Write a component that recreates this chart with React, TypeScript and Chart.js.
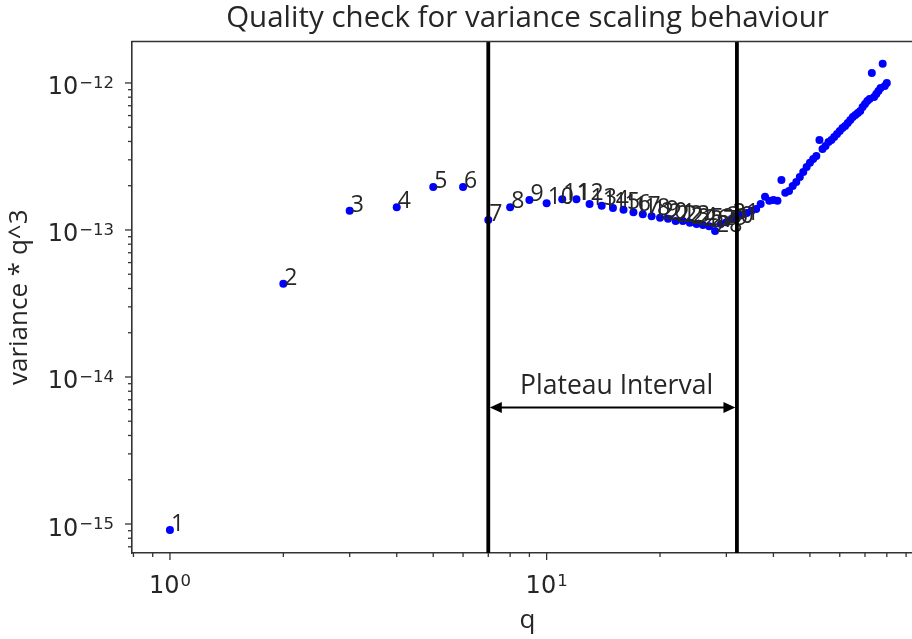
import React, { useEffect, useRef } from 'react';
import { Chart, registerables } from 'chart.js';

Chart.register(...registerables);

// ---- data ----
const qValues: number[] = [
  1, 2, 3, 4, 5, 6, 7, 8, 9, 10,
  11, 12, 13, 14, 15, 16, 17, 18, 19, 20,
  21, 22, 23, 24, 25, 26, 27, 28, 29, 30,
  31, 32, 33, 34, 35, 36, 37, 38, 39, 40,
  41, 42, 43, 44, 45, 46, 47, 48, 49, 50,
  51, 52, 53, 54, 55, 56, 57, 58, 59, 60,
  61, 62, 63, 64, 65, 66, 67, 68, 69, 70,
  71, 72, 73, 74, 75, 76, 77, 78, 79, 80,
];

const varianceQ3: number[] = [
  9.1e-16, 4.3e-14, 1.35e-13, 1.43e-13, 1.96e-13, 1.96e-13, 1.17e-13, 1.43e-13, 1.60e-13, 1.52e-13,
  1.62e-13, 1.62e-13, 1.50e-13, 1.46e-13, 1.41e-13, 1.37e-13, 1.32e-13, 1.28e-13, 1.24e-13, 1.21e-13,
  1.19e-13, 1.15e-13, 1.15e-13, 1.12e-13, 1.10e-13, 1.08e-13, 1.06e-13, 9.85e-14, 1.10e-13, 1.13e-13,
  1.19e-13, 1.23e-13, 1.27e-13, 1.305e-13, 1.35e-13, 1.39e-13, 1.50e-13, 1.68e-13, 1.58e-13, 1.60e-13,
  1.58e-13, 2.19e-13, 1.79e-13, 1.84e-13, 1.99e-13, 2.12e-13, 2.29e-13, 2.48e-13, 2.68e-13, 2.86e-13,
  3.04e-13, 3.19e-13, 4.10e-13, 3.56e-13, 3.73e-13, 3.97e-13, 4.10e-13, 4.29e-13, 4.50e-13, 4.72e-13,
  4.94e-13, 5.10e-13, 5.35e-13, 5.60e-13, 5.87e-13, 6.06e-13, 6.25e-13, 6.45e-13, 6.87e-13, 7.20e-13,
  7.54e-13, 7.79e-13, 1.17e-12, 8.03e-13, 8.42e-13, 8.82e-13, 9.25e-13, 1.35e-12, 9.54e-13, 1.00e-12,
];

const plateauBounds: number[] = [7, 32];
const labeledCount = 31;
const xRange: number[] = [0.793, 99.8];
const yRange: number[] = [6.35e-16, 1.914e-12];

const titleText = 'Quality check for variance scaling behaviour';
const xTitle = 'q';
const yTitle = 'variance * q^3';
const plateauText = 'Plateau Interval';

// ---- helpers ----
function powerOf(value: number): number | null {
  const lg = Math.log10(value);
  const e = Math.round(lg);
  return Math.abs(lg - e) > 1e-6 ? null : e;
}

function buildLogTicks(min: number, max: number) {
  const ticks: { value: number; major: boolean }[] = [];
  const e0 = Math.floor(Math.log10(min));
  const e1 = Math.ceil(Math.log10(max));
  for (let e = e0; e <= e1; e++) {
    for (let m = 1; m <= 9; m++) {
      const v = m * Math.pow(10, e);
      if (v >= min * 0.9999 && v <= max * 1.0001) ticks.push({ value: v, major: m === 1 });
    }
  }
  return ticks;
}

const TEXT = '#262626';
const AXIS = '#333333';
const BASE_FONT = '24px "DejaVu Sans"';
const EXP_FONT = '16.5px "DejaVu Sans"';

function drawPowerLabel(ctx: CanvasRenderingContext2D, e: number, x: number, baseline: number, align: 'center' | 'right') {
  const base = '10';
  const exp = String(e).replace('-', '\u2212');
  ctx.font = BASE_FONT;
  const wb = ctx.measureText(base).width;
  ctx.font = EXP_FONT;
  const we = ctx.measureText(exp).width;
  const total = wb + 1 + we;
  const x0 = align === 'center' ? x - total / 2 : x - total;
  ctx.textAlign = 'left';
  ctx.textBaseline = 'alphabetic';
  ctx.font = BASE_FONT;
  ctx.fillText(base, x0, baseline);
  ctx.font = EXP_FONT;
  ctx.fillText(exp, x0 + wb + 1, baseline - 6.5);
}

const decorPlugin = {
  id: 'decor',
  afterDatasetsDraw(chart: any) {
    const { ctx, chartArea: ca, scales } = chart;
    const x = scales.x;
    const y = scales.y;
    ctx.save();

    // point annotations
    ctx.font = '23px "Open Sans"';
    ctx.fillStyle = TEXT;
    ctx.textAlign = 'left';
    ctx.textBaseline = 'alphabetic';
    for (let i = 0; i < labeledCount; i++) {
      ctx.fillText(String(qValues[i]), x.getPixelForValue(qValues[i]) + 1, y.getPixelForValue(varianceQ3[i]) + 1);
    }

    // plateau lines
    ctx.beginPath();
    ctx.rect(ca.left, ca.top, ca.right - ca.left, ca.bottom - ca.top);
    ctx.clip();
    ctx.strokeStyle = '#000000';
    ctx.lineWidth = 3.8;
    const px = plateauBounds.map((b) => x.getPixelForValue(b));
    px.forEach((p) => {
      ctx.beginPath();
      ctx.moveTo(p, ca.top);
      ctx.lineTo(p, ca.bottom);
      ctx.stroke();
    });

    // double arrow
    const ay = 407.5;
    const ah = 12;
    const aw = 5.5;
    ctx.lineWidth = 2;
    ctx.beginPath();
    ctx.moveTo(px[0] + ah, ay);
    ctx.lineTo(px[1] - ah, ay);
    ctx.stroke();
    ctx.fillStyle = '#000000';
    ctx.beginPath();
    ctx.moveTo(px[0] + 1.5, ay);
    ctx.lineTo(px[0] + 1.5 + ah, ay - aw);
    ctx.lineTo(px[0] + 1.5 + ah, ay + aw);
    ctx.closePath();
    ctx.fill();
    ctx.beginPath();
    ctx.moveTo(px[1] - 1.5, ay);
    ctx.lineTo(px[1] - 1.5 - ah, ay - aw);
    ctx.lineTo(px[1] - 1.5 - ah, ay + aw);
    ctx.closePath();
    ctx.fill();

    ctx.restore();

    ctx.save();
    ctx.font = '26.5px "Open Sans"';
    ctx.fillStyle = TEXT;
    ctx.textAlign = 'center';
    ctx.textBaseline = 'alphabetic';
    ctx.fillText(plateauText, (px[0] + px[1]) / 2 + 4, 394);
    ctx.restore();
  },
  afterDraw(chart: any) {
    const { ctx, chartArea: ca, scales } = chart;
    ctx.save();
    // top + right spines
    ctx.strokeStyle = AXIS;
    ctx.lineWidth = 1.6;
    ctx.beginPath();
    ctx.moveTo(ca.left - 0.8, ca.top);
    ctx.lineTo(ca.right, ca.top);
    ctx.lineTo(ca.right, ca.bottom);
    ctx.stroke();

    // tick marks + labels
    ctx.lineWidth = 1.3;
    ctx.fillStyle = TEXT;
    scales.x.ticks.forEach((t: any) => {
      const p = scales.x.getPixelForValue(t.value);
      if (p < ca.left - 0.5 || p > ca.right + 0.5) return;
      const len = t.major ? 7 : 4;
      ctx.beginPath();
      ctx.moveTo(p, ca.bottom);
      ctx.lineTo(p, ca.bottom + len);
      ctx.stroke();
      const e = t.major ? powerOf(t.value) : null;
      if (e !== null) drawPowerLabel(ctx, e, p, ca.bottom + 39.5, 'center');
    });
    scales.y.ticks.forEach((t: any) => {
      const p = scales.y.getPixelForValue(t.value);
      if (p < ca.top - 0.5 || p > ca.bottom + 0.5) return;
      const len = t.major ? 7 : 4;
      ctx.beginPath();
      ctx.moveTo(ca.left, p);
      ctx.lineTo(ca.left - len, p);
      ctx.stroke();
      const e = t.major ? powerOf(t.value) : null;
      if (e !== null) drawPowerLabel(ctx, e, ca.left - 18, p + 11.5, 'right');
    });

    // title
    ctx.font = '29.5px "Open Sans"';
    ctx.fillStyle = TEXT;
    ctx.textAlign = 'center';
    ctx.textBaseline = 'alphabetic';
    ctx.fillText(titleText, (ca.left + ca.right) / 2, 27);
    ctx.restore();
  },
};

export default function App() {
  const canvasRef = useRef<HTMLCanvasElement | null>(null);

  useEffect(() => {
    if (!canvasRef.current) return;
    const points = qValues.map((q, i) => ({ x: q, y: varianceQ3[i] }));
    const chart = new Chart(canvasRef.current, {
      type: 'scatter',
      data: {
        datasets: [
          {
            data: points,
            backgroundColor: '#0000ff',
            borderWidth: 0,
            pointRadius: 4,
            pointHoverRadius: 4,
          },
        ],
      },
      options: {
        animation: false,
        responsive: true,
        maintainAspectRatio: false,
        events: [],
        layout: { padding: { top: 41.5, right: 7, left: 0, bottom: 0 } },
        plugins: {
          legend: { display: false },
          tooltip: { enabled: false },
          title: { display: false },
        },
        scales: {
          x: {
            type: 'logarithmic',
            position: 'bottom',
            min: xRange[0],
            max: xRange[1],
            afterBuildTicks: (s: any) => {
              s.ticks = buildLogTicks(s.min, s.max);
            },
            afterFit: (s: any) => {
              s.height = 86;
            },
            grid: { display: false, drawTicks: false },
            border: { display: true, color: AXIS, width: 1.6 },
            ticks: { display: false, autoSkip: false, maxRotation: 0 },
            title: {
              display: true,
              text: xTitle,
              color: TEXT,
              font: { family: 'Open Sans', size: 26 },
              padding: { top: 0, bottom: 3 },
            },
          },
          y: {
            type: 'logarithmic',
            position: 'left',
            min: yRange[0],
            max: yRange[1],
            afterBuildTicks: (s: any) => {
              s.ticks = buildLogTicks(s.min, s.max);
            },
            afterFit: (s: any) => {
              s.width = 132;
            },
            grid: { display: false, drawTicks: false },
            border: { display: true, color: AXIS, width: 1.6 },
            ticks: { display: false, autoSkip: false },
            title: {
              display: true,
              text: yTitle,
              color: TEXT,
              font: { family: 'Open Sans', size: 26 },
              padding: { top: 4, bottom: 0 },
            },
          },
        },
      },
      plugins: [decorPlugin],
    } as any);
    return () => chart.destroy();
  }, []);

  return (
    <div
      style={{
        position: 'fixed',
        left: 0,
        top: 0,
        width: 912,
        height: 639,
        overflow: 'hidden',
        background: '#ffffff',
      }}
    >
      <div style={{ position: 'relative', width: 930, height: 639 }}>
        <canvas ref={canvasRef} />
      </div>
    </div>
  );
}
